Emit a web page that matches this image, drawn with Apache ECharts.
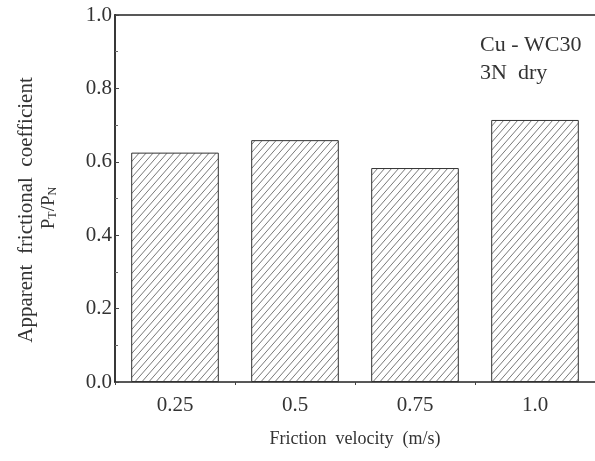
<!DOCTYPE html>
<html>
<head>
<meta charset="utf-8">
<style>
  html, body { margin: 0; padding: 0; background: #fff; }
  #chart { width: 595px; height: 461px; }
</style>
<script src="https://cdn.jsdelivr.net/npm/echarts@6/dist/echarts.min.js"></script>
</head>
<body>
<div id="chart"></div>
<script>
// data
const velocities = ['0.25', '0.5', '0.75', '1.0']
const frictionCoef = [0.625, 0.659, 0.583, 0.714]
const yTicks = [0, 0.2, 0.4, 0.6, 0.8, 1.0]

const FONT = 'Liberation Serif'
const INK = '#333'

// diagonal hatch for the bars
function hatch() {
  const w = 7, h = 8
  const c = document.createElement('canvas')
  c.width = w
  c.height = h
  const ctx = c.getContext('2d')
  ctx.strokeStyle = '#555'
  ctx.lineWidth = 0.8
  ctx.beginPath()
  ctx.moveTo(0, h); ctx.lineTo(w, 0)
  ctx.moveTo(-w, h); ctx.lineTo(0, 0)
  ctx.moveTo(w, h); ctx.lineTo(2 * w, 0)
  ctx.stroke()
  return c
}

const chart = echarts.init(document.getElementById('chart'))
chart.setOption({
  animation: false,
  backgroundColor: '#fff',
  grid: { left: 115, top: 15, width: 484, height: 367 },
  xAxis: [
    {
      type: 'category',
      data: velocities,
      axisLine: { lineStyle: { color: '#222', width: 1.5 } },
      axisTick: { show: true, length: 3, lineStyle: { color: '#444' } },
      axisLabel: { color: INK, fontFamily: FONT, fontSize: 21, margin: 13 },
      name: 'Friction  velocity  (m/s)',
      nameLocation: 'middle',
      nameGap: 48,
      nameTextStyle: { color: INK, fontFamily: FONT, fontSize: 18 }
    },
    {
      type: 'category',
      position: 'top',
      data: velocities,
      axisLine: { lineStyle: { color: '#222', width: 1.5 } },
      axisTick: { show: false },
      axisLabel: { show: false }
    }
  ],
  yAxis: {
    type: 'value',
    min: yTicks[0],
    max: yTicks[yTicks.length - 1],
    interval: 0.2,
    splitLine: { show: false },
    axisLine: { show: true, lineStyle: { color: '#222', width: 1.8 } },
    axisTick: { show: true, inside: true, length: 4, lineStyle: { color: '#444' } },
    minorTick: { show: true, splitNumber: 2, length: 3, lineStyle: { color: '#666' } },
    axisLabel: {
      color: INK, fontFamily: FONT, fontSize: 21, margin: 3,
      formatter: v => v.toFixed(1)
    }
  },
  graphic: [
    {
      type: 'text',
      x: 26, y: 210,
      rotation: Math.PI / 2,
      style: {
        text: 'Apparent  frictional  coefficient',
        font: '21px "Liberation Serif"',
        fill: INK,
        align: 'center',
        verticalAlign: 'middle'
      }
    },
    {
      type: 'text',
      x: 49, y: 208,
      rotation: Math.PI / 2,
      style: {
        text: '{p|P}{s|T}{p|/P}{s|N}',
        align: 'center',
        verticalAlign: 'middle',
        rich: {
          p: { font: '19px "Liberation Serif"', fill: INK },
          s: { font: '12px "Liberation Serif"', fill: INK, padding: [7, 0, 0, 0] }
        }
      }
    },
    {
      type: 'text',
      left: 480, top: 31,
      style: {
        text: 'Cu - WC30\n3N  dry',
        font: '22px "Liberation Serif"',
        lineHeight: 28,
        fill: INK
      }
    }
  ],
  series: [
    {
      type: 'bar',
      data: frictionCoef,
      barWidth: '73%',
      itemStyle: {
        color: { image: hatch(), repeat: 'repeat' },
        borderColor: '#333',
        borderWidth: 1
      }
    }
  ]
})
</script>
</body>
</html>
